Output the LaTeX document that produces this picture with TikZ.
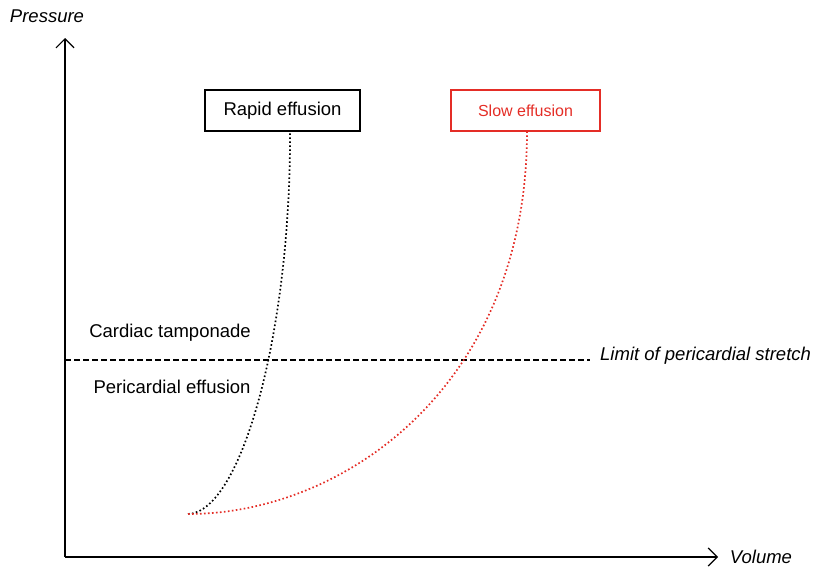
\documentclass[tikz,border=0pt]{standalone}
\usepackage{fontspec}
\setmainfont{Liberation Sans}
\usetikzlibrary{arrows.meta}
\definecolor{myred}{RGB}{228,45,38}
\begin{document}
\begin{tikzpicture}[x=1pt,y=-1pt,
  lab/.style={font=\fontsize{18.5}{20}\selectfont, inner sep=0pt},
  ilab/.style={lab, font=\fontsize{18.5}{20}\selectfont\itshape},
  axis/.style={line width=1.2pt, -{Straight Barb[length=9pt,width=18pt,line width=1.2pt]}},
  boxk/.style={draw=black, line width=1.3pt, minimum width=155pt, minimum height=41pt, inner sep=0pt, font=\fontsize{18.5}{20}\selectfont},
  boxr/.style={draw=myred, text=myred, line width=1.3pt, minimum width=149pt, minimum height=41pt, inner sep=0pt, font=\fontsize{16}{18}\selectfont},
  curve/.style={line width=1.7pt, dash pattern=on 1.6pt off 2.4pt}]
\useasboundingbox (0,0) rectangle (820,570);
\coordinate (O) at (65,557);
\coordinate (ytop) at (65,38);
\coordinate (xend) at (718,557);
\draw[axis] (O) -- (ytop);
\draw[axis] (O) -- (xend);
\node[ilab] (pressure) at (47,16) {Pressure};
\node[ilab] (volume) at (761,557) {Volume};
\node[boxk] (rapid) at (282.5,110.5) {\raisebox{-1.5pt}{Rapid effusion}};
\node[boxr] (slow) at (525.5,110.5) {\raisebox{-1pt}{Slow effusion}};
\coordinate (dl) at (65,360);
\coordinate (dr) at (590,360);
\draw[line width=1.3pt, dash pattern=on 6pt off 3pt] (dl) -- (dr);
\node[ilab, anchor=west] (limit) at (600,356) {Limit of pericardial stretch};
\node[lab] (tamp) at (170,333) {Cardiac tamponade};
\node[lab] (eff) at (172,387) {Pericardial effusion};
\coordinate (start) at (188,514);
\draw[curve, black] (start) .. controls (242,512) and (291,330) .. (rapid.south -| 290,0);
\draw[curve, myred] (start) .. controls (345,514) and (527,385) .. (slow.south -| 527,0);
\end{tikzpicture}
\end{document}
